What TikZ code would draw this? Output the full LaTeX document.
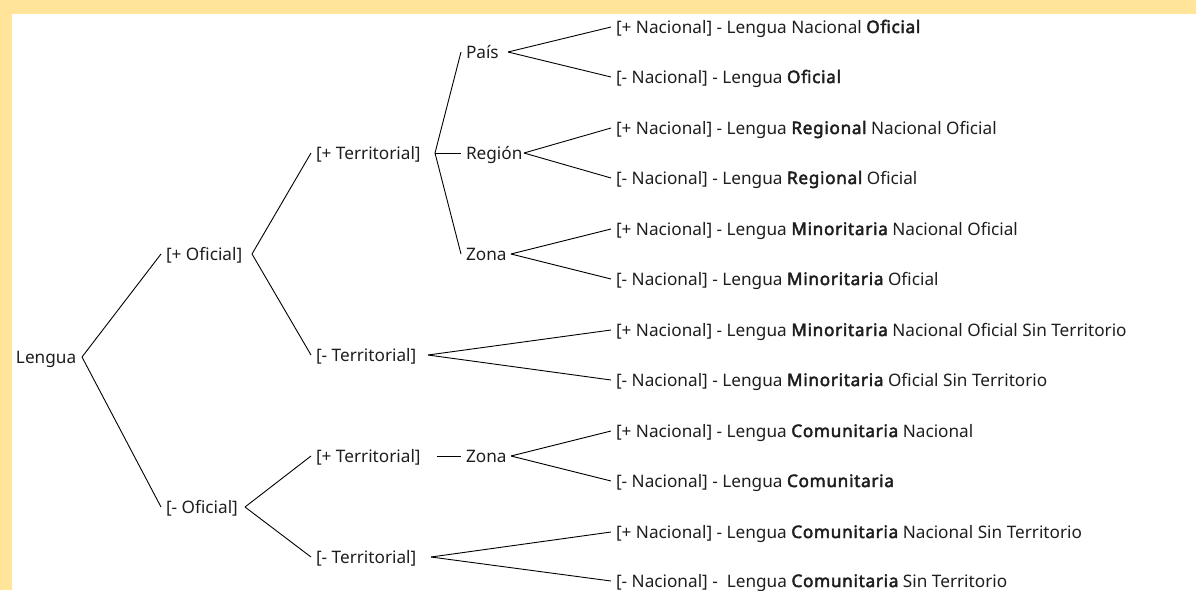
\documentclass[tikz,border=0pt]{standalone}
\usepackage{fontspec}
\setmainfont{Noto Sans}
\newfontfamily\nsbold{Noto Sans}[FakeBold=2.6,LetterSpace=4]
\newcommand{\bw}[1]{{\nsbold #1}}
\definecolor{frame}{RGB}{255,228,153}
\definecolor{ink}{RGB}{30,30,30}
\newcommand{\fw}[2]{\makebox[#1pt][l]{#2}}
\tikzset{
  tn/.style={inner sep=0pt, outer xsep=5pt, outer ysep=0pt, text height=12pt, text depth=0pt,
    anchor=west, font=\fontsize{17.2pt}{20pt}\selectfont, text=ink},
  br/.style={draw=black, line width=0.9pt}
}
\begin{document}
\begin{tikzpicture}[x=1pt,y=-1pt]
\useasboundingbox (0,0) rectangle (1196,590);
\fill[frame] (0,0) rectangle (1196,14);
\fill[frame] (0,0) rectangle (12,590);
% nodes
\node[tn] (lengua) at (11,357) {\fw{61}{Lengua}};
\node[tn] (pof) at (161,254) {\fw{81}{[+ Oficial]}};
\node[tn] (mof) at (161,507) {\fw{74}{[- Oficial]}};
\node[tn] (pt1) at (311,153) {\fw{114}{[+ Territorial]}};
\node[tn] (mt1) at (311,355) {\fw{107}{[- Territorial]}};
\node[tn] (pt2) at (311,456) {\fw{116}{[+ Territorial]}};
\node[tn] (mt2) at (311,557) {\fw{110}{[- Territorial]}};
\node[tn] (pais) at (461,52) {\fw{37}{País}};
\node[tn] (region) at (461,153) {\fw{53}{Región}};
\node[tn] (zona1) at (461,254) {\fw{40}{Zona}};
\node[tn] (zona2) at (461,456) {\fw{40}{Zona}};
\node[tn] (l1) at (611,27) {[+ Nacional] - Lengua Nacional \bw{Oficial}};
\node[tn] (l2) at (611,77) {[- Nacional] - Lengua \bw{Oficial}};
\node[tn] (l3) at (611,128) {[+ Nacional] - Lengua \bw{Regional} Nacional Oficial};
\node[tn] (l4) at (611,178) {[- Nacional] - Lengua \bw{Regional} Oficial};
\node[tn] (l5) at (611,229) {[+ Nacional] - Lengua \bw{Minoritaria} Nacional Oficial};
\node[tn] (l6) at (611,279) {[- Nacional] - Lengua \bw{Minoritaria} Oficial};
\node[tn] (l7) at (611,330) {[+ Nacional] - Lengua \bw{Minoritaria} Nacional Oficial Sin Territorio};
\node[tn] (l8) at (611,380) {[- Nacional] - Lengua \bw{Minoritaria} Oficial Sin Territorio};
\node[tn] (l9) at (611,431) {[+ Nacional] - Lengua \bw{Comunitaria} Nacional};
\node[tn] (l10) at (611,481) {[- Nacional] - Lengua \bw{Comunitaria}};
\node[tn] (l11) at (611,532) {[+ Nacional] - Lengua \bw{Comunitaria} Nacional Sin Territorio};
\node[tn] (l12) at (611,581) {[- Nacional] -~ Lengua \bw{Comunitaria} Sin Territorio};
% connectors
\draw[br] (lengua.east) -- (pof.west);
\draw[br] (lengua.east) -- (mof.west);
\draw[br] (pof.east) -- (pt1.west);
\draw[br] (pof.east) -- (mt1.west);
\draw[br] (mof.east) -- (pt2.west);
\draw[br] (mof.east) -- (mt2.west);
\draw[br] (pt1.east) -- (pais.west);
\draw[br] (pt1.east) -- (region.west);
\draw[br] (pt1.east) -- (zona1.west);
\draw[br] (pt2.east) -- (zona2.west);
\draw[br] (pais.east) -- (l1.west);
\draw[br] (pais.east) -- (l2.west);
\draw[br] (region.east) -- (l3.west);
\draw[br] (region.east) -- (l4.west);
\draw[br] (zona1.east) -- (l5.west);
\draw[br] (zona1.east) -- (l6.west);
\draw[br] (mt1.east) -- (l7.west);
\draw[br] (mt1.east) -- (l8.west);
\draw[br] (zona2.east) -- (l9.west);
\draw[br] (zona2.east) -- (l10.west);
\draw[br] (mt2.east) -- (l11.west);
\draw[br] (mt2.east) -- (l12.west);
\end{tikzpicture}
\end{document}
